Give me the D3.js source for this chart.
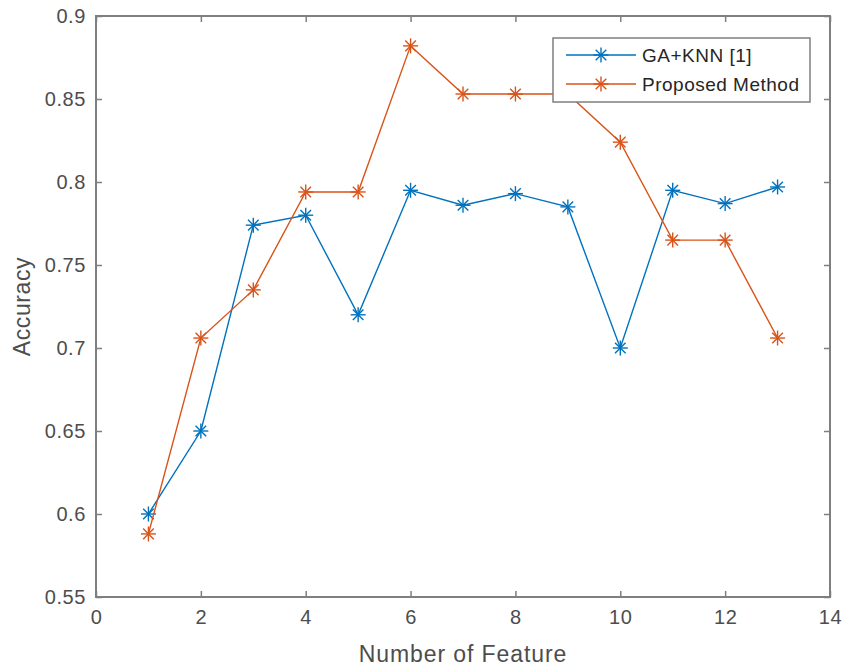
<!DOCTYPE html>
<html>
<head>
<meta charset="utf-8">
<script src="https://cdn.jsdelivr.net/npm/d3@7"></script>
<style>
  body { margin: 0; background: #fff; }
  svg text { font-family: "Liberation Sans", Arial, sans-serif; fill: #4d4d4d; }
</style>
</head>
<body>
<div id="chart"></div>
<script>
const features = [1, 2, 3, 4, 5, 6, 7, 8, 9, 10, 11, 12, 13];
const gaKnn = [0.600, 0.650, 0.774, 0.780, 0.720, 0.795, 0.786, 0.793, 0.785, 0.700, 0.795, 0.787, 0.797];
const proposed = [0.588, 0.706, 0.735, 0.794, 0.794, 0.882, 0.853, 0.853, 0.853, 0.824, 0.765, 0.765, 0.706];
const xTicks = [0, 2, 4, 6, 8, 10, 12, 14];
const yTicks = [0.55, 0.6, 0.65, 0.7, 0.75, 0.8, 0.85, 0.9];

const width = 843, height = 666;
const margin = {top: 16, right: 12, bottom: 69, left: 96};

const svg = d3.select("#chart").append("svg")
    .attr("width", width)
    .attr("height", height);

const x = d3.scaleLinear().domain([0, 14]).range([margin.left, width - margin.right - 1]);
const y = d3.scaleLinear().domain([0.55, 0.9]).range([height - margin.bottom, margin.top]);

const axisColor = "#7f7f7f";

// box
svg.append("rect")
    .attr("x", x(0)).attr("y", y(0.9))
    .attr("width", x(14) - x(0)).attr("height", y(0.55) - y(0.9))
    .attr("fill", "none").attr("stroke", axisColor).attr("stroke-width", 2);

const fmt = d => d3.format("")(+d.toFixed(2));

const xAxis = g => g
    .attr("transform", `translate(0,${y(0.55)})`)
    .call(d3.axisBottom(x).tickValues(xTicks).tickSize(-6).tickPadding(13).tickFormat(d => d))
    .call(g => g.select(".domain").remove());

const yAxis = g => g
    .attr("transform", `translate(${x(0)},0)`)
    .call(d3.axisLeft(y).tickValues(yTicks).tickSize(-6).tickPadding(10).tickFormat(fmt))
    .call(g => g.select(".domain").remove());

svg.append("g").call(xAxis);
svg.append("g").call(yAxis);

// ticks on top and right
svg.append("g")
    .attr("transform", `translate(0,${y(0.9)})`)
    .call(d3.axisTop(x).tickValues(xTicks).tickSize(-6).tickFormat(""))
    .call(g => g.select(".domain").remove());
svg.append("g")
    .attr("transform", `translate(${x(14)},0)`)
    .call(d3.axisRight(y).tickValues(yTicks).tickSize(-6).tickFormat(""))
    .call(g => g.select(".domain").remove());

svg.selectAll(".tick line").attr("stroke", axisColor).attr("stroke-width", 1.5);
svg.selectAll(".tick text").attr("font-size", 20).attr("letter-spacing", 0.6).style("fill", "#4d4d4d");

// axis labels
svg.append("text")
    .attr("x", (x(0) + x(14)) / 2).attr("y", 662)
    .attr("text-anchor", "middle").attr("font-size", 23).attr("letter-spacing", 0.9)
    .text("Number of Feature");

svg.append("text")
    .attr("transform", `translate(30,${(y(0.55) + y(0.9)) / 2}) rotate(-90)`)
    .attr("text-anchor", "middle").attr("font-size", 23).attr("letter-spacing", 0.6)
    .text("Accuracy");

const series = [
    {name: "GA+KNN [1]", values: gaKnn, color: "#0072bd"},
    {name: "Proposed Method", values: proposed, color: "#d95319"}
];

const line = d3.line().x((d, i) => x(features[i])).y(d => y(d));

function star(g, cx, cy, color) {
    const r = 7.5;
    [0, 45, 90, 135].forEach(a => {
        const rad = a * Math.PI / 180;
        g.append("line")
            .attr("x1", cx - r * Math.cos(rad)).attr("y1", cy - r * Math.sin(rad))
            .attr("x2", cx + r * Math.cos(rad)).attr("y2", cy + r * Math.sin(rad))
            .attr("stroke", color).attr("stroke-width", 1.4);
    });
}

series.forEach(s => {
    svg.append("path")
        .datum(s.values)
        .attr("fill", "none")
        .attr("stroke", s.color)
        .attr("stroke-width", 1.4)
        .attr("d", line);
    const g = svg.append("g");
    s.values.forEach((v, i) => star(g, x(features[i]), y(v), s.color));
});

// legend
const lg = svg.append("g").attr("transform", "translate(553,38)");
lg.append("rect").attr("width", 257).attr("height", 64)
    .attr("fill", "#fff").attr("stroke", axisColor).attr("stroke-width", 1.5);
series.forEach((s, i) => {
    const yy = 17 + i * 29;
    lg.append("line").attr("x1", 13).attr("x2", 83).attr("y1", yy).attr("y2", yy)
        .attr("stroke", s.color).attr("stroke-width", 1.4);
    star(lg, 48, yy, s.color);
    lg.append("text").attr("x", 89).attr("y", yy + 7).attr("font-size", 19).attr("letter-spacing", 0.5)
        .style("fill", "#262626").text(s.name);
});
</script>
</body>
</html>
